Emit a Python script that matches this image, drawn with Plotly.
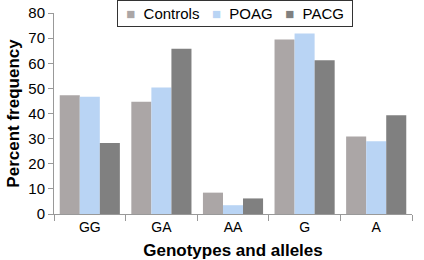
import plotly.graph_objects as go

categories = ["GG", "GA", "AA", "G", "A"]
controls = [47.3, 44.7, 8.5, 69.5, 30.8]
poag = [46.7, 50.3, 3.5, 71.8, 29.0]
pacg = [28.3, 65.8, 6.2, 61.2, 39.3]
y_ticks = [0, 10, 20, 30, 40, 50, 60, 70, 80]
series_names = ["Controls", "POAG", "PACG"]
series_colors = ["#aba6a6", "#b9d4f4", "#808080"]

fig = go.Figure()
for name, vals, col in zip(series_names, [controls, poag, pacg], series_colors):
    fig.add_trace(go.Bar(name=name, x=categories, y=vals, marker=dict(color=col, line=dict(width=0))))

sp = "&nbsp;"
legend_text = sp + (sp * 3).join(
    f"<span style='color:{c}'>■</span>{sp*2}{n}" for n, c in zip(series_names, series_colors)
) + sp

fig.update_layout(
    width=424, height=260,
    margin=dict(l=54, r=12, t=13, b=46, autoexpand=False),
    paper_bgcolor="white", plot_bgcolor="white",
    barmode="group", bargap=0.16, bargroupgap=0,
    font=dict(family="Arial, Liberation Sans, sans-serif", color="#000000", size=14),
    showlegend=False,
    annotations=[dict(text=legend_text, xref="paper", yref="paper", x=0.176, y=1.0647,
                      xanchor="left", yanchor="top", showarrow=False,
                      font=dict(size=15), bordercolor="#333333", borderwidth=1,
                      borderpad=4, bgcolor="white")],
    xaxis=dict(showline=True, linecolor="#999999", linewidth=1, ticks="outside",
               tickson="boundaries", ticklen=6, tickcolor="#999999",
               tickfont=dict(size=14),
               title=dict(text="<b>Genotypes and alleles</b>", font=dict(size=17), standoff=10)),
    yaxis=dict(range=[0, 80], tickvals=y_ticks, showline=True, linecolor="#999999", linewidth=1,
               ticks="outside", ticklen=5, tickcolor="#999999", showgrid=False, zeroline=False,
               tickfont=dict(size=15),
               title=dict(text="<b>Percent frequency</b>", font=dict(size=17), standoff=4)),
)

fig.write_html("out.html")
